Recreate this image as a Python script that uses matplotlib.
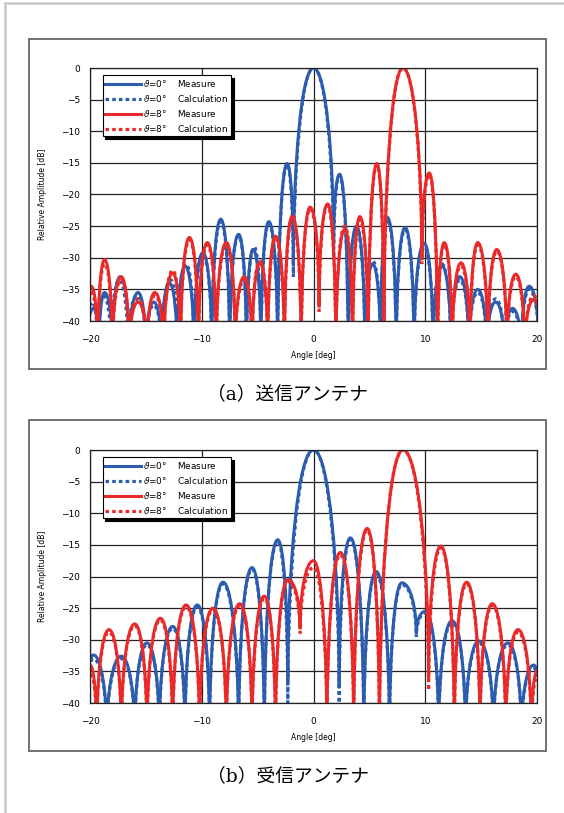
import matplotlib
matplotlib.use("Agg")
import matplotlib.pyplot as plt
from matplotlib.path import Path
from matplotlib.patches import PathPatch, Rectangle
from matplotlib.lines import Line2D

# ---------------- data ----------------
x_ticks = [-20, -10, 0, 10, 20]
y_ticks = [0, -5, -10, -15, -20, -25, -30, -35, -40]
legend_labels = [r"$\vartheta$=0°    Measure", r"$\vartheta$=0°    Calculation",
                 r"$\vartheta$=8°    Measure", r"$\vartheta$=8°    Calculation"]
captions = ["（a）送信アンテナ", "（b）受信アンテナ"]

# ---- (a) transmit antenna ----
a_b_meas_pk_deg = [-19.7, -18.7, -17.3, -15.7, -14.3, -12.9, -11.5, -9.9, -8.3, -6.7, -5.4, -4.0, -2.36, 0.0,
                   2.33, 3.85, 5.3, 6.6, 8.2, 9.9, 11.5, 13.1, 14.7, 16.3, 17.8, 19.3]
a_b_meas_pk_db = [-38, -35.5, -33, -35.5, -37, -34, -31.3, -29.2, -23.9, -26.3, -28.7, -24.3, -15.1, 0.0,
                  -16.8, -25.0, -31.0, -23.6, -25.2, -27.7, -31.3, -33.0, -35.0, -37.0, -38.0, -34.5]
a_b_meas_nl_deg = [-20.3, -19.2, -18.0, -16.5, -15.0, -13.6, -12.2, -10.7, -9.1, -7.5, -6.0, -4.7, -3.2, -1.8,
                   1.8, 3.1, 4.6, 6.0, 7.4, 9.0, 10.7, 12.3, 13.9, 15.5, 17.1, 18.6, 20.2]
a_b_meas_nl_db = [-45, -45, -45, -45, -45, -45, -45, -45, -45, -45, -45, -45, -45, -31,
                  -28, -45, -45, -45, -45, -45, -45, -45, -45, -45, -45, -45, -45]

a_b_calc_pk_deg = [-19.8, -18.8, -17.4, -15.8, -14.3, -12.8, -11.4, -9.9, -8.3, -6.7, -5.3, -4.0, -2.36, 0.0,
                   2.33, 3.85, 5.3, 6.6, 8.2, 9.9, 11.5, 13.1, 14.7, 16.3, 17.8, 19.3]
a_b_calc_pk_db = [-37, -36, -33.5, -36, -37.5, -33.5, -31, -29.5, -24.3, -26.6, -28.3, -24.6, -15.3, 0.0,
                  -17.0, -25.4, -30.5, -24.0, -25.6, -28.2, -31.0, -33.5, -35.5, -36.5, -38.5, -35.0]
a_b_calc_nl_deg = [-20.3, -19.3, -18.1, -16.6, -15.0, -13.6, -12.1, -10.7, -9.1, -7.5, -6.0, -4.7, -3.2, -1.8,
                   1.8, 3.1, 4.6, 6.0, 7.4, 9.0, 10.7, 12.3, 13.9, 15.5, 17.1, 18.6, 20.2]
a_b_calc_nl_db = [-45, -45, -45, -45, -45, -45, -45, -45, -45, -45, -45, -45, -45, -33,
                  -30, -45, -45, -45, -45, -45, -45, -45, -45, -45, -45, -45, -45]

a_r_meas_pk_deg = [-19.9, -18.7, -17.2, -15.7, -14.2, -12.6, -11.1, -9.5, -7.8, -6.2, -4.8, -3.4, -1.9, -0.3,
                   1.27, 2.8, 4.15, 5.67, 8.0, 10.36, 11.7, 13.2, 14.7, 16.4, 18.1, 19.7]
a_r_meas_pk_db = [-34.5, -30.3, -33.0, -37.0, -35.5, -32.4, -26.8, -27.6, -27.6, -33.0, -30.8, -26.6, -23.4, -22.0,
                  -21.5, -25.5, -23.5, -15.1, 0.0, -16.6, -27.6, -30.8, -27.6, -28.7, -32.6, -36.6]
a_r_meas_nl_deg = [-20.5, -19.3, -18.0, -16.5, -14.9, -13.4, -11.9, -10.3, -8.7, -7.0, -5.5, -4.1, -2.6, -1.1,
                   0.5, 2.0, 3.5, 4.9, 6.3, 9.7, 11.1, 12.4, 14.0, 15.6, 17.3, 18.9, 20.5]
a_r_meas_nl_db = [-45, -45, -45, -45, -45, -45, -45, -45, -45, -45, -45, -45, -45, -45,
                  -37.5, -45, -45, -45, -40, -30, -45, -45, -45, -45, -45, -45, -45]

a_r_calc_pk_deg = [-19.9, -18.7, -17.2, -15.7, -14.2, -12.6, -11.1, -9.5, -7.8, -6.2, -4.8, -3.4, -1.9, -0.3,
                   1.27, 2.8, 4.15, 5.67, 8.0, 10.36, 11.7, 13.2, 14.7, 16.4, 18.1, 19.7]
a_r_calc_pk_db = [-35.5, -31.0, -33.5, -36.5, -36.0, -32.0, -27.2, -28.0, -28.0, -33.5, -30.5, -27.0, -23.8, -22.3,
                  -21.8, -25.0, -24.0, -15.3, 0.0, -16.9, -28.0, -31.3, -28.0, -29.0, -33.0, -36.0]
a_r_calc_nl_deg = [-20.5, -19.3, -18.0, -16.5, -14.9, -13.4, -11.9, -10.3, -8.7, -7.0, -5.5, -4.1, -2.6, -1.1,
                   0.5, 2.0, 3.5, 4.9, 6.3, 9.7, 11.1, 12.4, 14.0, 15.6, 17.3, 18.9, 20.5]
a_r_calc_nl_db = [-45, -45, -45, -45, -45, -45, -45, -45, -45, -45, -45, -45, -45, -45,
                  -38.5, -45, -45, -45, -41, -31, -45, -45, -45, -45, -45, -45, -45]

# ---- (b) receive antenna ----
b_b_meas_pk_deg = [-19.7, -17.2, -14.9, -12.6, -10.4, -8.1, -5.5, -3.2, 0.0, 3.3, 5.6, 7.9, 10.0, 12.4, 14.8, 17.4, 19.7]
b_b_meas_pk_db = [-32.4, -32.6, -30.5, -27.9, -24.5, -20.9, -18.6, -14.2, 0.0, -13.9, -19.2, -21.0, -25.5, -27.0, -30.2, -30.5, -34.0]
b_b_meas_nl_deg = [-20.5, -18.5, -16.0, -13.8, -11.5, -9.3, -6.7, -4.4, -2.3, 2.3, 4.5, 6.8, 9.2, 11.2, 13.6, 16.1, 18.6, 20.5]
b_b_meas_nl_db = [-45, -45, -45, -45, -45, -45, -45, -45, -36.5, -37.5, -45, -45, -29.0, -45, -45, -45, -45, -45]

b_b_calc_pk_deg = [-19.7, -17.2, -14.9, -12.6, -10.4, -8.1, -5.5, -3.2, 0.0, 3.3, 5.6, 7.9, 10.0, 12.4, 14.8, 17.4, 19.7]
b_b_calc_pk_db = [-33.0, -33.0, -30.8, -28.2, -24.8, -21.2, -18.9, -14.5, 0.0, -14.2, -19.5, -21.3, -25.8, -27.3, -30.5, -30.8, -34.5]
b_b_calc_nl_deg = [-20.5, -18.5, -16.0, -13.8, -11.5, -9.3, -6.7, -4.4, -2.3, 2.3, 4.5, 6.8, 9.2, 11.2, 13.6, 16.1, 18.6, 20.5]
b_b_calc_nl_db = [-45, -45, -45, -45, -45, -45, -45, -45, -40, -40, -45, -45, -29.5, -45, -45, -45, -45, -45]

b_r_meas_pk_deg = [-20.0, -18.3, -16.0, -13.7, -11.4, -9.0, -6.6, -4.4, -2.3, 0.0, 2.4, 4.8, 8.0, 11.4, 13.7, 16.0, 18.3, 20.0]
b_r_meas_pk_db = [-34.0, -28.4, -27.5, -26.6, -24.5, -25.0, -24.3, -23.1, -20.5, -17.5, -16.2, -12.4, 0.0, -15.2, -20.9, -24.3, -28.4, -35.0]
b_r_meas_nl_deg = [-20.5, -19.4, -17.2, -14.9, -12.6, -10.2, -7.8, -5.5, -3.4, -1.2, 1.2, 3.6, 5.9, 10.3, 12.6, 14.9, 17.2, 19.5, 20.5]
b_r_meas_nl_db = [-45, -45, -45, -45, -45, -45, -45, -45, -45, -28.1, -45, -45, -45, -36, -45, -45, -45, -45, -45]

b_r_calc_pk_deg = [-20.0, -18.3, -16.0, -13.7, -11.4, -9.0, -6.6, -4.4, -2.3, 0.0, 2.4, 4.8, 8.0, 11.4, 13.7, 16.0, 18.3, 20.0]
b_r_calc_pk_db = [-35.0, -28.8, -27.8, -26.9, -24.8, -25.3, -24.6, -23.5, -20.8, -18.6, -16.6, -12.7, 0.0, -15.5, -21.2, -24.6, -28.8, -36.0]
b_r_calc_nl_deg = [-20.5, -19.4, -17.2, -14.9, -12.6, -10.2, -7.8, -5.5, -3.4, -1.2, 1.2, 3.6, 5.9, 10.3, 12.6, 14.9, 17.2, 19.5, 20.5]
b_r_calc_nl_db = [-45, -45, -45, -45, -45, -45, -45, -45, -45, -29.0, -45, -45, -45, -38, -45, -45, -45, -45, -45]

BLUE = "#2b5cb0"
RED = "#ea2a2a"

W, H = 564, 813
fig = plt.figure(figsize=(W / 100, H / 100), dpi=100)


def fx(px):
    return px / W


def fy(py):
    return 1 - py / H


def lobe_path(pk_deg, pk_db, nl_deg, nl_db):
    verts = [(nl_deg[0], nl_db[0])]
    codes = [Path.MOVETO]
    for i in range(len(pk_deg)):
        x0, y0 = nl_deg[i], nl_db[i]
        xp, yp = pk_deg[i], pk_db[i]
        x1, y1 = nl_deg[i + 1], nl_db[i + 1]
        d0 = xp - x0
        d1 = x1 - xp
        verts += [(x0, y0 + 0.5 * (yp - y0)), (xp - 0.6 * d0, yp), (xp, yp)]
        codes += [Path.CURVE4] * 3
        verts += [(xp + 0.6 * d1, yp), (x1, y1 + 0.5 * (yp - y1)), (x1, y1)]
        codes += [Path.CURVE4] * 3
    return Path(verts, codes)


MEAS_LW, CALC_LW = 2.2, 2.3
CALC_DASH = (0, (1.1, 1.0))
meas_kw = dict(lw=MEAS_LW, ls="-", capstyle="butt", joinstyle="round")
calc_kw = dict(lw=CALC_LW, ls=CALC_DASH, capstyle="butt")


def panel(ax, series):
    for pk_d, pk_v, nl_d, nl_v, color, kw in series:
        p = PathPatch(lobe_path(pk_d, pk_v, nl_d, nl_v), fill=False, edgecolor=color, **kw)
        p.set_clip_on(True)
        ax.add_patch(p)
    ax.set_xlim(-20, 20)
    ax.set_ylim(-40, 0)
    ax.set_xticks(x_ticks)
    ax.set_yticks(y_ticks)
    ax.tick_params(length=0, labelsize=6.5)
    ax.tick_params(axis="x", pad=10)
    ax.tick_params(axis="y", pad=7)
    ax.grid(True, color="#222222", lw=0.9)
    ax.set_axisbelow(True)
    for s in ax.spines.values():
        s.set_color("#222222")
        s.set_linewidth(0.9)
    ax.set_xlabel("Angle [deg]", fontsize=5.5, labelpad=5)
    ax.set_ylabel("Relative Amplitude [dB]", fontsize=5.5, labelpad=10)
    handles = [Line2D([], [], color=BLUE, lw=MEAS_LW),
               Line2D([], [], color=BLUE, lw=CALC_LW, ls=CALC_DASH, dash_capstyle="butt"),
               Line2D([], [], color=RED, lw=MEAS_LW),
               Line2D([], [], color=RED, lw=CALC_LW, ls=CALC_DASH, dash_capstyle="butt")]
    leg = ax.legend(handles, legend_labels, loc="upper left", bbox_to_anchor=(0.028, 0.972),
                    fontsize=6.4, frameon=True, fancybox=False, handlelength=4.0,
                    borderpad=0.3, labelspacing=0.45, handletextpad=0.3,
                    borderaxespad=0, shadow={"color": "black", "alpha": 1})
    leg.get_frame().set_edgecolor("black")
    leg.get_frame().set_linewidth(0.8)


ax_a = fig.add_axes([fx(90), fy(321), fx(537) - fx(90), fy(68) - fy(321)])
panel(ax_a, [
    (a_b_meas_pk_deg, a_b_meas_pk_db, a_b_meas_nl_deg, a_b_meas_nl_db, BLUE, meas_kw),
    (a_b_calc_pk_deg, a_b_calc_pk_db, a_b_calc_nl_deg, a_b_calc_nl_db, BLUE, calc_kw),
    (a_r_meas_pk_deg, a_r_meas_pk_db, a_r_meas_nl_deg, a_r_meas_nl_db, RED, meas_kw),
    (a_r_calc_pk_deg, a_r_calc_pk_db, a_r_calc_nl_deg, a_r_calc_nl_db, RED, calc_kw),
])

ax_b = fig.add_axes([fx(90), fy(703), fx(537) - fx(90), fy(450) - fy(703)])
panel(ax_b, [
    (b_b_meas_pk_deg, b_b_meas_pk_db, b_b_meas_nl_deg, b_b_meas_nl_db, BLUE, meas_kw),
    (b_b_calc_pk_deg, b_b_calc_pk_db, b_b_calc_nl_deg, b_b_calc_nl_db, BLUE, calc_kw),
    (b_r_meas_pk_deg, b_r_meas_pk_db, b_r_meas_nl_deg, b_r_meas_nl_db, RED, meas_kw),
    (b_r_calc_pk_deg, b_r_calc_pk_db, b_r_calc_nl_deg, b_r_calc_nl_db, RED, calc_kw),
])

# panel frames
for top, bot in [(39, 369), (420, 751)]:
    fig.patches.append(Rectangle((fx(29), fy(bot)), fx(546) - fx(29), fy(top) - fy(bot),
                                 transform=fig.transFigure, fill=False,
                                 edgecolor="#666666", lw=1.3))
# outer page frame (left & top)
fig.add_artist(Line2D([fx(5), fx(5)], [0, fy(3)], transform=fig.transFigure, color="#c8c8c8", lw=1.8))
fig.add_artist(Line2D([fx(5), 1], [fy(3), fy(3)], transform=fig.transFigure, color="#c8c8c8", lw=1.8))

cap_font = ["DejaVu Serif", "Noto Sans CJK JP"]
fig.text(fx(288), fy(394), captions[0], ha="center", va="center", fontsize=13.5, family=cap_font)
fig.text(fx(288), fy(776), captions[1], ha="center", va="center", fontsize=13.5, family=cap_font)

fig.savefig("out.png", dpi=100)
